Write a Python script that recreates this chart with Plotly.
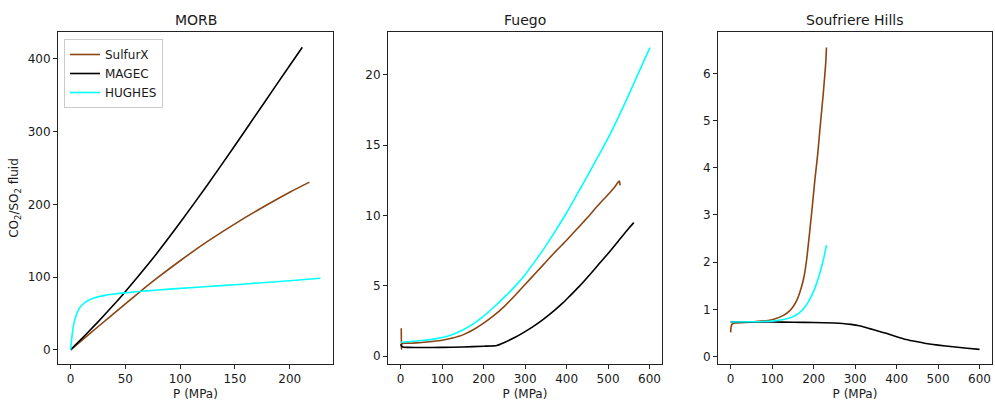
import plotly.graph_objects as go

# ---------------- data ----------------
panel_titles = ["MORB", "Fuego", "Soufriere Hills"]
series_names = ["SulfurX", "MAGEC", "HUGHES"]

# MORB
morb_sulfurx_p = [0, 10, 25, 50, 63, 80, 100, 125, 150, 175, 200, 218]
morb_sulfurx_r = [0, 12.7, 31.7, 63.2, 79.4, 99.8, 122.5, 149, 173.2, 195.7, 216.7, 230.6]
morb_magec_p = [0, 10, 20, 30, 40, 48, 60, 75, 100, 125, 150, 175, 200, 211.5]
morb_magec_r = [0, 15, 30.5, 46.5, 63, 76.5, 98, 125.5, 175, 227, 281, 336, 391, 416]
morb_hughes_p = [0, 1, 2, 3, 4, 6, 8, 10, 13, 17, 22, 30, 40, 50, 65, 80, 100, 125, 150, 175, 200, 228]
morb_hughes_r = [0, 15, 27, 36, 42, 51, 57, 61, 65, 68.5, 71.5, 74.5, 76.8, 78.3, 80.5, 82.3, 84.5, 87, 89.5, 92.3, 95, 98.5]

# Fuego
fuego_sulfurx_p = [1.5, 2, 3, 25, 50, 75, 100, 125, 150, 175, 200, 225, 250, 275, 300, 325, 350, 375, 400, 425, 450, 475, 500, 515, 527, 529]
fuego_sulfurx_r = [2.0, 0.5, 0.9, 0.93, 0.98, 1.05, 1.14, 1.3, 1.52, 1.88, 2.35, 2.9, 3.55, 4.3, 5.1, 5.9, 6.7, 7.5, 8.25, 9.05, 9.85, 10.7, 11.5, 12.0, 12.45, 12.15]
fuego_magec_p = [0, 2, 5, 15, 50, 100, 150, 200, 232, 250, 275, 295, 320, 343, 370, 391, 407, 430, 450, 475, 500, 525, 550, 562]
fuego_magec_r = [0.85, 0.72, 0.66, 0.63, 0.62, 0.63, 0.66, 0.71, 0.77, 0.98, 1.33, 1.66, 2.12, 2.6, 3.24, 3.79, 4.26, 4.95, 5.6, 6.45, 7.3, 8.2, 9.1, 9.5]
fuego_hughes_p = [0, 25, 50, 75, 100, 125, 150, 175, 200, 225, 250, 275, 300, 325, 350, 375, 400, 425, 450, 475, 500, 525, 550, 575, 601]
fuego_hughes_r = [1.0, 1.05, 1.12, 1.2, 1.33, 1.55, 1.87, 2.3, 2.85, 3.5, 4.2, 4.95, 5.8, 6.8, 7.85, 9.0, 10.2, 11.5, 12.8, 14.15, 15.5, 17.0, 18.6, 20.25, 21.94]

# Soufriere Hills
sh_sulfurx_p = [0, 1, 3, 10, 50, 100, 125, 140, 150, 160, 170, 177, 183, 190, 197, 203, 210, 215, 223, 229, 231]
sh_sulfurx_r = [0.51, 0.62, 0.68, 0.71, 0.73, 0.78, 0.86, 0.95, 1.05, 1.2, 1.45, 1.7, 2.04, 2.6, 3.2, 3.74, 4.3, 4.8, 5.55, 6.2, 6.55]
sh_magec_p = [0, 50, 100, 150, 200, 250, 270, 290, 310, 335, 355, 375, 400, 423, 450, 471, 500, 536, 570, 600]
sh_magec_r = [0.73, 0.73, 0.73, 0.725, 0.72, 0.71, 0.70, 0.68, 0.65, 0.59, 0.54, 0.49, 0.42, 0.36, 0.31, 0.275, 0.24, 0.205, 0.175, 0.15]
sh_hughes_p = [0, 50, 100, 125, 140, 150, 160, 170, 180, 190, 200, 210, 220, 226, 231]
sh_hughes_r = [0.73, 0.735, 0.75, 0.78, 0.81, 0.84, 0.89, 0.96, 1.06, 1.2, 1.38, 1.62, 1.93, 2.15, 2.36]

x_ticks = [[0, 50, 100, 150, 200], [0, 100, 200, 300, 400, 500, 600], [0, 100, 200, 300, 400, 500, 600]]
y_ticks = [[0, 100, 200, 300, 400], [0, 5, 10, 15, 20], [0, 1, 2, 3, 4, 5, 6]]

# --------------- styling ---------------
colors = {"SulfurX": "#8B4513", "MAGEC": "#000000", "HUGHES": "#00FFFF"}
W, H = 995, 406
FONT = "DejaVu Sans"
TXT = "#1a1a1a"

panels = [
    [(morb_sulfurx_p, morb_sulfurx_r), (morb_magec_p, morb_magec_r), (morb_hughes_p, morb_hughes_r)],
    [(fuego_sulfurx_p, fuego_sulfurx_r), (fuego_magec_p, fuego_magec_r), (fuego_hughes_p, fuego_hughes_r)],
    [(sh_sulfurx_p, sh_sulfurx_r), (sh_magec_p, sh_magec_r), (sh_hughes_p, sh_hughes_r)],
]

x_px = [(58, 333), (388, 662), (718, 992)]
y_px = (32, 364)
x_ranges = [[-11.5, 239.5], [-30.5, 630], [-30.5, 630]]
y_ranges = [[-19.5, 437], [-0.55, 23.05], [-0.16, 6.88]]

fig = go.Figure()
for i, panel in enumerate(panels):
    for j, (p, r) in enumerate(panel):
        name = series_names[j]
        fig.add_trace(go.Scatter(
            x=p, y=r, mode="lines", name=name,
            line=dict(color=colors[name], width=1.6, shape="spline", smoothing=0.6),
            showlegend=(i == 0),
            xaxis="x" if i == 0 else f"x{i+1}",
            yaxis="y" if i == 0 else f"y{i+1}",
        ))

layout = dict(
    width=W, height=H,
    margin=dict(l=0, r=0, t=0, b=0),
    paper_bgcolor="white", plot_bgcolor="white",
    font=dict(family=FONT, size=12, color=TXT),
    showlegend=True,
    legend=dict(
        x=64 / W, y=1 - 39 / H, xanchor="left", yanchor="top",
        bgcolor="white", bordercolor="#cccccc", borderwidth=1,
        font=dict(family=FONT, size=12, color=TXT),
        tracegroupgap=0, itemwidth=30,
    ),
    annotations=[],
)

for i in range(3):
    xs = "xaxis" if i == 0 else f"xaxis{i+1}"
    ys = "yaxis" if i == 0 else f"yaxis{i+1}"
    xa = "x" if i == 0 else f"x{i+1}"
    ya = "y" if i == 0 else f"y{i+1}"
    common = dict(
        showline=True, mirror=True, linecolor="#222222", linewidth=1,
        ticks="outside", ticklen=4, tickwidth=1, tickcolor="#222222",
        showgrid=False, zeroline=False, automargin=False,
        tickfont=dict(family=FONT, size=12, color=TXT),
    )
    layout[xs] = dict(
        domain=[x_px[i][0] / W, x_px[i][1] / W], range=x_ranges[i],
        tickvals=x_ticks[i], ticktext=[str(v) for v in x_ticks[i]],
        anchor=ya,
        title=dict(text="P (MPa)", font=dict(family=FONT, size=12, color=TXT), standoff=4),
        **common,
    )
    ydict = dict(
        domain=[1 - y_px[1] / H, 1 - y_px[0] / H], range=y_ranges[i],
        tickvals=y_ticks[i], ticktext=[str(v) for v in y_ticks[i]],
        anchor=xa,
        **common,
    )
    if i == 0:
        ydict["title"] = dict(text="CO<sub>2</sub>/SO<sub>2</sub> fluid",
                              font=dict(family=FONT, size=12, color=TXT), standoff=6)
    layout[ys] = ydict
    layout["annotations"].append(dict(
        text=panel_titles[i], xref="paper", yref="paper",
        x=(x_px[i][0] + x_px[i][1]) / 2 / W, y=1 - 20.5 / H,
        xanchor="center", yanchor="middle", showarrow=False,
        font=dict(family=FONT, size=14, color=TXT),
    ))

fig.update_layout(**layout)
fig.write_html(
    "out.html",
    config={"displayModeBar": False},
    post_script="document.body.style.margin='0';document.body.style.padding='0';",
)
